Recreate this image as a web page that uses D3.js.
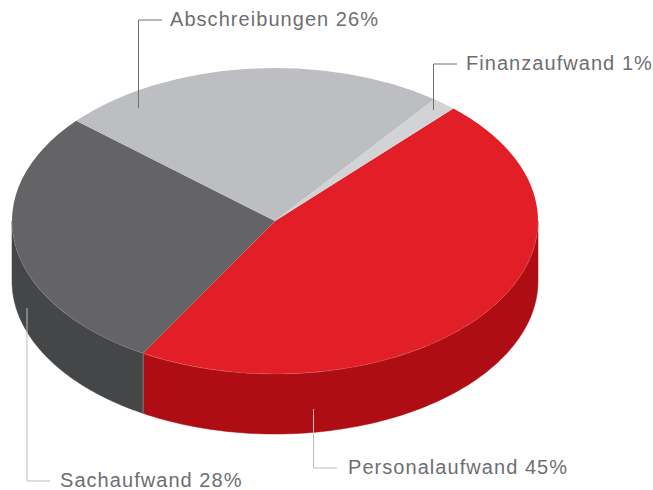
<!DOCTYPE html>
<html>
<head>
<meta charset="utf-8">
<script src="https://cdnjs.cloudflare.com/ajax/libs/d3/7.8.5/d3.min.js"></script>
<style>
  html, body { margin: 0; background: #fff; }
  text { font-family: "Liberation Sans", sans-serif; font-size: 20px; fill: #6d6e71; letter-spacing: 1.05px; }
</style>
</head>
<body>
<div class="canvas"></div>
<script>
// printed figures
const categories = ['Personalaufwand', 'Sachaufwand', 'Abschreibungen', 'Finanzaufwand'];
const printedPercent = [45, 28, 26, 1];
// slice sizes as measured on the picture, they differ a bit from the printed figures
const sliceShare = [46.5, 28, 24, 1.5];

const topColors = ['#e21e26', '#646466', '#bdbec1', '#d1d3d4'];
const wallColors = ['#ae0d14', '#454648', '#a0a1a4', '#b0b1b3'];

const dims = { width: 653, height: 490 };
const cent = { x: 275, y: 221 };
const rx = 263, ry = 153, depth = 60;
const startDeg = 42.7;

// elbow lines and text, in page pixels
const leaders = {
  Personalaufwand: { line: [[313.5, 409], [313.5, 468], [337, 468]], text: [348, 474], color: '#bcbdc0' },
  Sachaufwand: { line: [[27, 308], [27, 481], [50, 481]], text: [60, 487], color: '#bcbdc0' },
  Abschreibungen: { line: [[138.5, 108], [138.5, 20], [162, 20]], text: [170, 26], color: '#6d6e71' },
  Finanzaufwand: { line: [[433.5, 110], [433.5, 64], [457, 64]], text: [466, 70], color: '#6d6e71' }
};

const svg = d3.select('.canvas').append('svg')
  .attr('width', dims.width)
  .attr('height', dims.height)
  .style('display', 'block');

const pie = d3.pie()
  .sort(null)
  .startAngle(startDeg * Math.PI / 180)
  .endAngle((startDeg + 360) * Math.PI / 180)
  .value((d, i) => sliceShare[i]);

const slices = pie(categories);
const topColor = d3.scaleOrdinal(categories, topColors);
const wallColor = d3.scaleOrdinal(categories, wallColors);

// side wall, only the part of the rim that faces the viewer
const wallArea = d3.area()
  .x(a => cent.x + rx * Math.sin(a))
  .y0(a => cent.y - ry * Math.cos(a))
  .y1(a => cent.y - ry * Math.cos(a) + depth);

const visibleAngles = d => {
  const lo = Math.PI / 2, hi = Math.PI * 1.5;
  const a0 = Math.max(d.startAngle, lo), a1 = Math.min(d.endAngle, hi);
  if (a1 <= a0) return null;
  const n = 120;
  return d3.range(n + 1).map(i => a0 + (a1 - a0) * i / n);
};

const walls = slices.filter(d => visibleAngles(d));

svg.append('g').selectAll('path').data(walls).enter().append('path')
  .attr('d', d => wallArea(visibleAngles(d)))
  .attr('fill', d => wallColor(d.data))
  .attr('stroke', d => wallColor(d.data))
  .attr('stroke-width', 0.5);

// seam between the two front walls
svg.append('g').selectAll('line').data(walls.slice(1)).enter().append('line')
  .attr('x1', d => wallArea.x()(d.startAngle))
  .attr('x2', d => wallArea.x()(d.startAngle))
  .attr('y1', d => wallArea.y0()(d.startAngle))
  .attr('y2', d => wallArea.y1()(d.startAngle))
  .attr('stroke', '#8a8a8c')
  .attr('stroke-width', 0.8);

// top face is a flat arc squashed to an ellipse
const arcPath = d3.arc().outerRadius(rx).innerRadius(0);

svg.append('g')
  .attr('transform', `translate(${cent.x},${cent.y}) scale(1,${ry / rx})`)
  .selectAll('path').data(slices).enter().append('path')
  .attr('d', arcPath)
  .attr('fill', d => topColor(d.data));

// faint highlight along the front rim
svg.append('g').selectAll('path').data(walls).enter().append('path')
  .attr('d', d => wallArea.lineY0()(visibleAngles(d)))
  .attr('fill', 'none')
  .attr('stroke', '#fff')
  .attr('stroke-opacity', 0.18)
  .attr('stroke-width', 0.6);

const labelGroup = svg.append('g');
const elbow = d3.line();

labelGroup.selectAll('path').data(categories).enter().append('path')
  .attr('d', d => elbow(leaders[d].line))
  .attr('fill', 'none')
  .attr('stroke', d => leaders[d].color)
  .attr('stroke-width', 1);

labelGroup.selectAll('text').data(categories).enter().append('text')
  .attr('x', d => leaders[d].text[0])
  .attr('y', d => leaders[d].text[1])
  .text((d, i) => `${d} ${printedPercent[i]}%`);
</script>
</body>
</html>
